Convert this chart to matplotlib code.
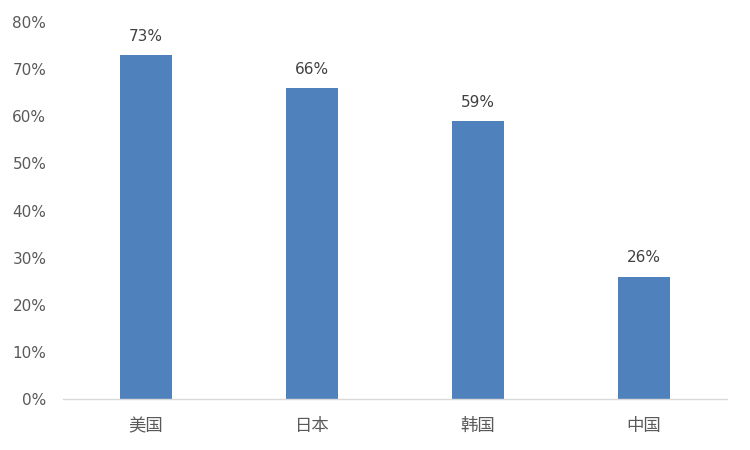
import matplotlib
matplotlib.use("Agg")
import matplotlib.pyplot as plt
from matplotlib.ticker import PercentFormatter

plt.rcParams['font.family'] = ['Noto Sans CJK SC', 'DejaVu Sans']

countries = ["美国", "日本", "韩国", "中国"]
shares = [73, 66, 59, 26]
y_ticks = [0, 10, 20, 30, 40, 50, 60, 70, 80]

bar_color = "#4F81BD"
text_color = "#595959"

fig = plt.figure(figsize=(7.5, 4.5), dpi=100)
ax = fig.add_axes([0.084, 0.113, 0.885, 0.838])

x = range(len(countries))
bars = ax.bar(x, shares, width=0.31, color=bar_color, zorder=2)

for xi, v in zip(x, shares):
    ax.text(xi, v + 2.4, f"{v}%", ha="center", va="bottom",
            fontsize=11, color="#404040", family=["DejaVu Sans"])

ax.set_xlim(-0.5, len(countries) - 0.5)
ax.set_ylim(0, 80)
ax.set_yticks(y_ticks)
ax.yaxis.set_major_formatter(PercentFormatter(decimals=0))
ax.set_xticks(list(x))
ax.set_xticklabels(countries, fontsize=12.5, color=text_color)

for lbl in ax.get_yticklabels():
    lbl.set_fontsize(11)
    lbl.set_color(text_color)
    lbl.set_family(["DejaVu Sans"])

for side in ("top", "right", "left"):
    ax.spines[side].set_visible(False)
ax.spines["bottom"].set_color("#D9D9D9")
ax.spines["bottom"].set_linewidth(1)

ax.tick_params(axis="y", length=0, pad=12)
ax.tick_params(axis="x", length=0, pad=13)

fig.savefig("out.png", dpi=100)
plt.close(fig)
